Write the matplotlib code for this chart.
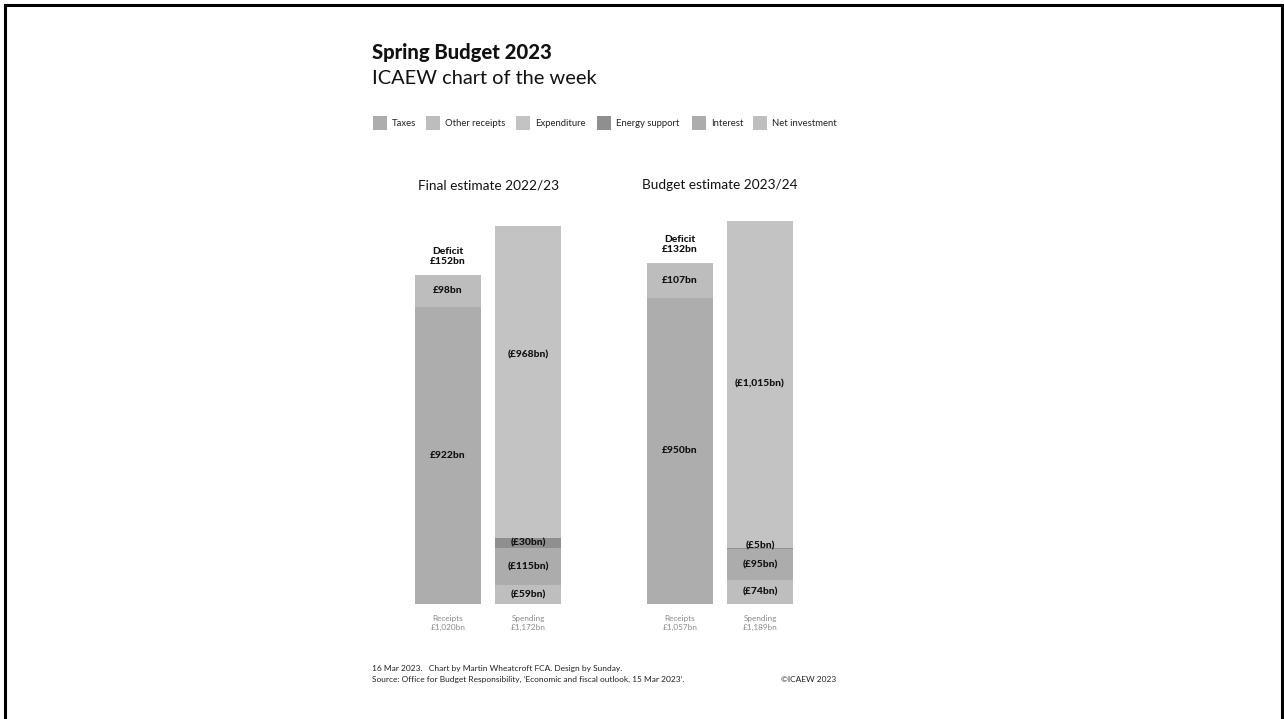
import matplotlib
matplotlib.use("Agg")
import matplotlib.pyplot as plt
from matplotlib.patches import Rectangle

plt.rcParams['font.family'] = ['Lato', 'DejaVu Sans']

W, H = 1284, 719

# data (bn)
periods = ["Final estimate 2022/23", "Budget estimate 2023/24"]
taxes = [922, 950]
other_receipts = [98, 107]
net_investment = [59, 74]
interest = [115, 95]
energy_support = [30, 5]
expenditure = [968, 1015]
deficit = [152, 132]
receipts_total = ["£1,020bn", "£1,057bn"]
spending_total = ["£1,172bn", "£1,189bn"]

legend_names = ["Taxes", "Other receipts", "Expenditure", "Energy support",
                "Interest", "Net investment"]
colors = {"Taxes": "#adadad", "Other receipts": "#bdbdbd", "Expenditure": "#c3c3c3",
          "Energy support": "#8f8f8f", "Interest": "#acacac", "Net investment": "#bebebe"}

fig = plt.figure(figsize=(W / 100, H / 100), dpi=100)
fig.patch.set_facecolor("white")


def fx(px):
    return px / W


def fy(py):
    return 1 - py / H


# frame round the picture (bottom edge falls outside)
fig.patches.append(Rectangle((fx(5), fy(725)), fx(1277), (725 - 5) / H,
                             transform=fig.transFigure, fill=False, ec="black", lw=2.2,
                             clip_on=False))

# axes in pixel x, bn in y
ax_left, ax_right, ax_bottom, ax_top = 400, 810, 604, 204
scale = 0.3225  # px per bn
ax = fig.add_axes([fx(ax_left), fy(ax_bottom), fx(ax_right - ax_left), (ax_bottom - ax_top) / H])
ax.set_xlim(ax_left, ax_right)
ax.set_ylim(0, (ax_bottom - ax_top) / scale)
ax.axis("off")

bw = 66
rec_x = [448, 680]
spe_x = [528, 760]
lab_kw = dict(ha="center", va="center", fontsize=7.4, fontweight="black", color="#111111")

for i in range(2):
    # receipts
    ax.bar(rec_x[i], taxes[i], bw, color=colors["Taxes"], lw=0)
    ax.bar(rec_x[i], other_receipts[i], bw, bottom=taxes[i], color=colors["Other receipts"], lw=0)
    ax.text(rec_x[i], taxes[i] / 2, f"£{taxes[i]}bn", **lab_kw)
    ax.text(rec_x[i], taxes[i] + other_receipts[i] / 2, f"£{other_receipts[i]}bn", **lab_kw)
    top = taxes[i] + other_receipts[i]
    ax.annotate(f"£{deficit[i]}bn", (rec_x[i], top), xytext=(0, 10.1),
                textcoords="offset points", **lab_kw)
    ax.annotate("Deficit", (rec_x[i], top), xytext=(0, 17.3),
                textcoords="offset points", **lab_kw)

    # spending
    b = 0
    segs = [("Net investment", net_investment[i]), ("Interest", interest[i]),
            ("Energy support", energy_support[i]), ("Expenditure", expenditure[i])]
    for name, v in segs:
        ax.bar(spe_x[i], v, bw, bottom=b, color=colors[name], lw=0)
        yl = b + v / 2
        if name == "Expenditure" and i == 0:
            yl = b + v * 0.587
        if name == "Energy support" and v < 10:
            yl = b + v + 7
        ax.text(spe_x[i], yl, f"(£{v:,}bn)", **lab_kw)
        b += v

    # bottom captions
    for xc, a, t in ((rec_x[i], "Receipts", receipts_total[i]),
                     (spe_x[i], "Spending", spending_total[i])):
        fig.text(fx(xc), fy(618), a, ha="center", va="center", fontsize=5.9, color="#8a8a8a")
        fig.text(fx(xc), fy(627.5), t, ha="center", va="center", fontsize=5.9, color="#8a8a8a")

# group titles
fig.text(fx(488), fy(185), periods[0], ha="center", va="center", fontsize=9.8, color="#111111")
fig.text(fx(720), fy(185), periods[1], ha="center", va="center", fontsize=9.8, color="#111111")

# titles
fig.text(fx(372), fy(52), "Spring Budget 2023", ha="left", va="center", fontsize=14.6,
         fontweight="black", color="#111111")
fig.text(fx(372), fy(78.5), "ICAEW chart of the week", ha="left", va="center", fontsize=14.4,
         color="#111111")

# legend
leg_x = [373, 426, 516, 597, 692, 753]
for xp, name in zip(leg_x, legend_names):
    fig.patches.append(Rectangle((fx(xp), fy(129.5)), fx(14), 14 / H, transform=fig.transFigure,
                                 color=colors[name], lw=0))
    fig.text(fx(xp + 19), fy(123), name, ha="left", va="center", fontsize=6.8, color="#222222")

# footer
fig.text(fx(372), fy(669), "16 Mar 2023.   Chart by Martin Wheatcroft FCA. Design by Sunday.",
         ha="left", va="center", fontsize=6.0, color="#222222")
fig.text(fx(372), fy(679.5),
         "Source: Office for Budget Responsibility, \u2018Economic and fiscal outlook, 15 Mar 2023\u2019.",
         ha="left", va="center", fontsize=6.0, color="#222222")
fig.text(fx(836), fy(679.5), "\u00a9ICAEW 2023", ha="right", va="center", fontsize=6.0,
         color="#222222")

fig.savefig("out.png", dpi=100, facecolor="white")
